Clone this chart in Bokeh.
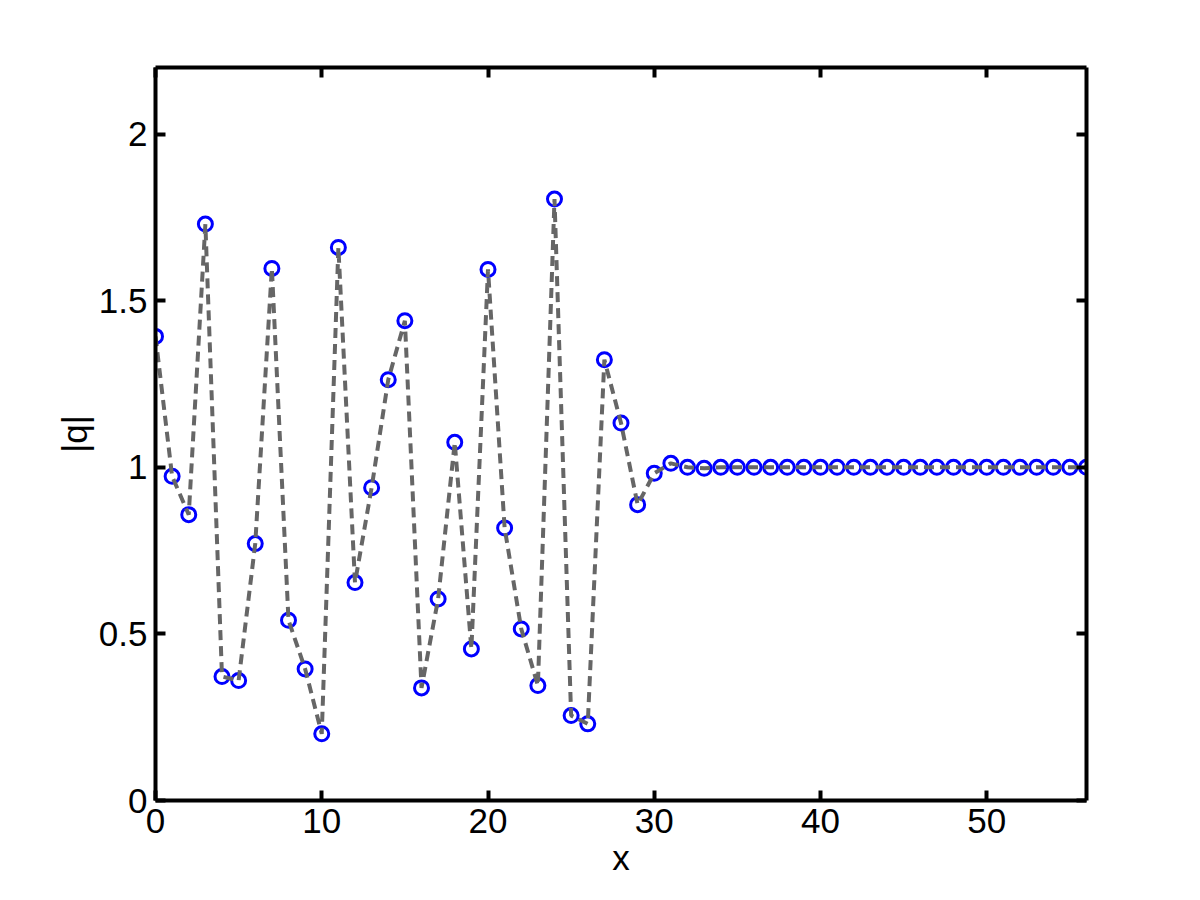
from bokeh.plotting import figure
from bokeh.models import Range1d, FixedTicker, LinearAxis
from bokeh.embed import file_html
from bokeh.resources import INLINE

x_vals = list(range(57))
q_vals = [1.393, 0.973, 0.858, 1.730, 0.372, 0.360, 0.771, 1.597, 0.541, 0.395,
          0.200, 1.660, 0.654, 0.939, 1.263, 1.440, 0.338, 0.605, 1.075, 0.455,
          1.594, 0.818, 0.515, 0.345, 1.805, 0.255, 0.230, 1.323, 1.133, 0.888,
          0.982, 1.012, 1.000, 0.997, 1.000, 1.000, 1.000, 1.000, 1.000, 1.000,
          1.000, 1.000, 1.000, 1.000, 1.000, 1.000, 1.000, 1.000, 1.000, 1.000,
          1.000, 1.000, 1.000, 1.000, 1.000, 1.000, 1.000]
x_ticks = [0, 10, 20, 30, 40, 50]
y_ticks = [0, 0.5, 1, 1.5, 2]

FONT = "Liberation Sans"

p = figure(frame_width=931, frame_height=733,
           x_range=Range1d(0, 56), y_range=Range1d(0, 2.2),
           output_backend="svg", toolbar_location=None,
           min_border_left=155, min_border_right=106,
           min_border_top=67, min_border_bottom=92)
p.outline_line_color = None
p.xgrid.visible = False
p.ygrid.visible = False
p.background_fill_color = "white"
p.border_fill_color = "white"

p.scatter(x_vals, q_vals, marker="circle", size=14, fill_color=None,
          line_color="#0000ff", line_width=3)
p.line(x_vals, q_vals, line_color="#666666", line_width=4, line_dash="10 6")

p.add_layout(LinearAxis(), "above")
p.add_layout(LinearAxis(), "right")

for ax in p.xaxis:
    ax.ticker = FixedTicker(ticks=x_ticks)
for ax in p.yaxis:
    ax.ticker = FixedTicker(ticks=y_ticks)

for ax in p.axis:
    ax.axis_line_width = 4
    ax.axis_line_color = "black"
    ax.major_tick_in = 10
    ax.major_tick_out = 0
    ax.major_tick_line_width = 4
    ax.major_tick_line_color = "black"
    ax.minor_tick_line_color = None
    ax.major_label_text_font = FONT
    ax.major_label_text_font_size = "35px"
    ax.major_label_text_color = "black"
    ax.major_label_standoff = 8

p.above[0].major_label_text_font_size = "1px"
p.above[0].major_label_text_color = None
p.right[0].major_label_text_font_size = "1px"
p.right[0].major_label_text_color = None

p.below[0].axis_label = "x"
p.left[0].axis_label = "|q|"
for ax in (p.below[0], p.left[0]):
    ax.axis_label_text_font = FONT
    ax.axis_label_text_font_size = "35px"
    ax.axis_label_text_font_style = "normal"
    ax.axis_label_text_color = "black"
    ax.axis_label_standoff = 2

open("out.html", "w").write(file_html(p, INLINE))
